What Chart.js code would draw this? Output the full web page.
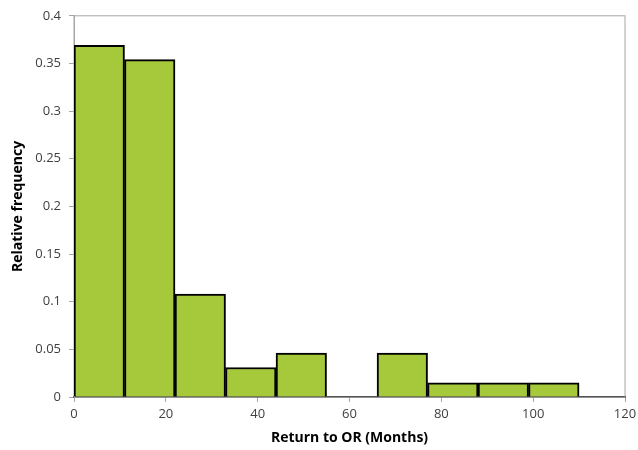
<!DOCTYPE html>
<html>
<head>
<meta charset="utf-8">
<script src="https://cdn.jsdelivr.net/npm/chart.js@4"></script>
<style>
  html, body { margin: 0; padding: 0; background: #fff; }
  #wrap { width: 638px; height: 450px; }
</style>
</head>
<body>
<div id="wrap"><canvas id="chart"></canvas></div>
<script>
// Histogramme : retour au bloc (mois), fréquence relative par classe de 11 mois
const binEdges = [0, 11, 22, 33, 44, 55, 66, 77, 88, 99, 110];
const relFreq  = [0.369, 0.354, 0.108, 0.031, 0.046, 0, 0.046, 0.015, 0.015, 0.015];
const xTicks   = [0, 20, 40, 60, 80, 100, 120];
const yTicks   = [0, 0.05, 0.1, 0.15, 0.2, 0.25, 0.3, 0.35, 0.4];
const yTickLabels = ['0', '0.05', '0.1', '0.15', '0.2', '0.25', '0.3', '0.35', '0.4'];

const GRAY = '#a6a6a6';
const FONT = '"Open Sans", "Liberation Sans", sans-serif';

// Cadre gris autour de la zone de tracé
const plotFrame = {
  id: 'plotFrame',
  beforeDatasetsDraw(chart) {
    const { ctx, chartArea: a } = chart;
    ctx.save();
    ctx.strokeStyle = GRAY;
    ctx.lineWidth = 1;
    ctx.strokeRect(a.left, a.top, a.right - a.left, a.bottom - a.top);
    ctx.restore();
  },
};

const points = relFreq.map((f, i) => ({ x: (binEdges[i] + binEdges[i + 1]) / 2, y: f }));

new Chart(document.getElementById('chart'), {
  type: 'bar',
  data: {
    datasets: [{
      data: points,
      backgroundColor: '#a5c93a',
      borderColor: '#000',
      borderWidth: 2,
      barPercentage: 1,
      categoryPercentage: 1,
      grouped: false,
    }],
  },
  options: {
    responsive: true,
    maintainAspectRatio: false,
    animation: false,
    layout: { padding: { left: 6, top: 15, right: 13, bottom: 0 } },
    plugins: {
      legend: { display: false },
      tooltip: { enabled: false },
    },
    scales: {
      x: {
        type: 'linear',
        min: 0,
        max: 120,
        offset: false,
        afterBuildTicks: s => { s.ticks = xTicks.map(v => ({ value: v })); },
        afterFit: s => { s.height = 53; s.paddingLeft = 0; s.paddingRight = 0; },
        ticks: { color: '#404040', font: { family: FONT, size: 13 }, padding: 4 },
        grid: { offset: false, drawOnChartArea: false, drawTicks: true, tickLength: 5, color: GRAY },
        border: { color: '#000', width: 1.5 },
        title: {
          display: true,
          text: 'Return to OR (Months)',
          color: '#000',
          font: { family: FONT, size: 14, weight: 'bold' },
          padding: { top: 2, bottom: 4 },
        },
      },
      y: {
        min: 0,
        max: 0.4,
        afterBuildTicks: s => { s.ticks = yTicks.map(v => ({ value: v })); },
        afterFit: s => { s.width = 68; },
        ticks: {
          color: '#404040',
          font: { family: FONT, size: 13 },
          padding: 8,
          callback: (v, i) => yTickLabels[i],
        },
        grid: { drawOnChartArea: false, drawTicks: true, tickLength: 5, color: GRAY },
        border: { color: GRAY, width: 1 },
        title: {
          display: true,
          text: 'Relative frequency',
          color: '#000',
          font: { family: FONT, size: 14, weight: 'bold' },
          padding: { top: 4, bottom: 2 },
        },
      },
    },
  },
  plugins: [plotFrame],
});
</script>
</body>
</html>
